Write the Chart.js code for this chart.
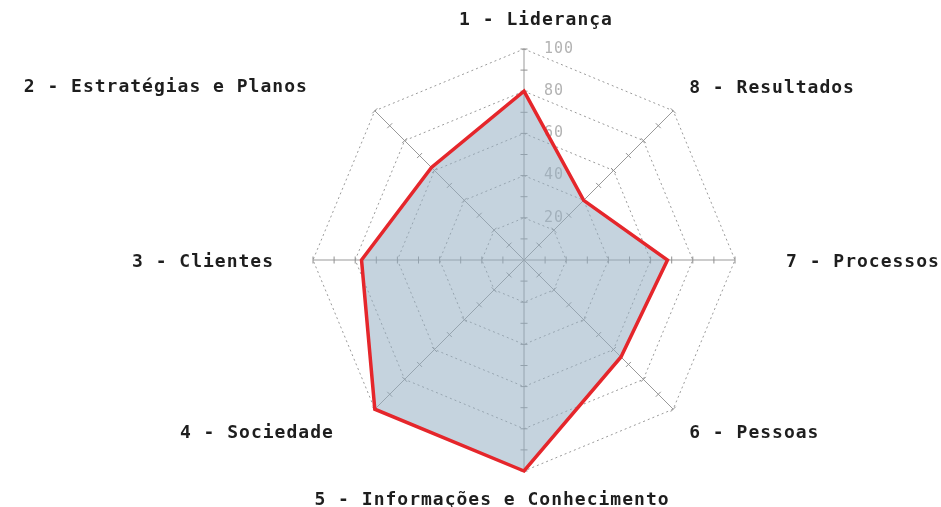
<!DOCTYPE html>
<html>
<head>
<meta charset="utf-8">
<script src="https://cdn.jsdelivr.net/npm/chart.js@4.4.0/dist/chart.umd.min.js"></script>
<style>
  body { margin: 0; background: #fff; }
  #wrap { width: 941px; height: 507px; }
</style>
</head>
<body>
<div id="wrap"><canvas id="radarChart"></canvas></div>
<script>
// axes go clockwise from the top
const labels = ['1 - Liderança', '8 - Resultados', '7 - Processos', '6 - Pessoas',
                '5 - Informações e Conhecimento', '4 - Sociedade', '3 - Clientes', '2 - Estratégias e Planos'];
const scores = [80, 40, 68, 65, 100, 100, 77, 62];
const tickStep = 20;
const scaleMax = 100;

// where each axis label sits, relative to the end of its spoke
const labelOffsets = [[12, -29], [16, -22], [51, 2], [16, 24], [-32, 29], [-41, 24], [-39, 2], [-67, -23]];
const labelAlign = ['center', 'left', 'left', 'left', 'center', 'right', 'right', 'right'];

const spacing = {
    id: 'spacing',
    beforeUpdate(chart) { chart.ctx.letterSpacing = '1px'; },
    beforeDraw(chart) { chart.ctx.letterSpacing = '1px'; }
};

// small cross marks every 10 on each spoke
const spokeTicks = {
    id: 'spokeTicks',
    beforeDatasetsDraw(chart) {
        const s = chart.scales.r;
        const ctx = chart.ctx;
        ctx.save();
        ctx.strokeStyle = '#909090';
        ctx.lineWidth = 1;
        labels.forEach((l, i) => {
            const a = s.getIndexAngle(i) - Math.PI / 2;
            const dx = -Math.sin(a) * 3.5, dy = Math.cos(a) * 3.5;
            for (let v = 10; v <= scaleMax; v += 10) {
                const p = s.getPointPositionForValue(i, v);
                ctx.beginPath();
                ctx.moveTo(p.x - dx, p.y - dy);
                ctx.lineTo(p.x + dx, p.y + dy);
                ctx.stroke();
            }
        });
        ctx.restore();
    }
};

// axis names, placed off the spoke ends
const axisNames = {
    id: 'axisNames',
    afterDraw(chart) {
        const s = chart.scales.r;
        const ctx = chart.ctx;
        ctx.save();
        ctx.font = 'bold 18px "DejaVu Sans Mono"';
        ctx.fillStyle = '#1e1e1e';
        ctx.textBaseline = 'middle';
        labels.forEach((l, i) => {
            const p = s.getPointPositionForValue(i, scaleMax);
            ctx.textAlign = labelAlign[i];
            ctx.fillText(l, p.x + labelOffsets[i][0], p.y + labelOffsets[i][1]);
        });
        ctx.restore();
    }
};

const radarChart = new Chart(document.getElementById('radarChart').getContext('2d'), {
    type: 'radar',
    data: {
        labels: labels,
        datasets: [{
            label: 'Pontuação',
            data: scores,
            fill: true,
            backgroundColor: 'rgba(150, 175, 195, 0.55)',
            borderColor: '#e5262b',
            borderWidth: 3.5,
            borderJoinStyle: 'miter',
            pointRadius: 0,
            pointHoverRadius: 0
        }]
    },
    options: {
        responsive: true,
        maintainAspectRatio: false,
        animation: false,
        // the radial scale also keeps room for its tick labels (9.5px each side)
        layout: { padding: { left: 304, right: 196, top: 40, bottom: 26 } },
        plugins: {
            legend: { display: false },
            tooltip: { enabled: false }
        },
        scales: {
            r: {
                min: 0,
                max: scaleMax,
                beginAtZero: true,
                ticks: {
                    stepSize: tickStep,
                    showLabelBackdrop: false,
                    color: '#b3b3b3',
                    font: { family: 'DejaVu Sans Mono', size: 15 },
                    callback: (v) => ' '.repeat(String(v).length + 4) + v
                },
                grid: {
                    circular: false,
                    color: '#9a9a9a',
                    lineWidth: 1
                },
                border: { dash: [2, 3] },
                angleLines: {
                    color: '#999999',
                    lineWidth: 1
                },
                pointLabels: { display: false }
            }
        }
    },
    plugins: [spacing, spokeTicks, axisNames]
});
</script>
</body>
</html>
